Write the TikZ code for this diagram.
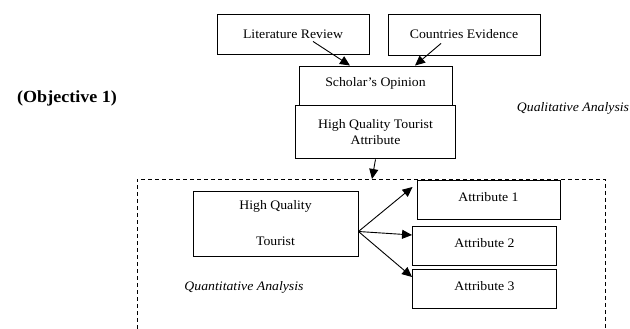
\documentclass[tikz,border=0pt]{standalone}
\usepackage{fontspec}
\setmainfont{Liberation Serif}[FakeStretch=1.06]
\usetikzlibrary{positioning, arrows.meta}

\begin{document}
\begin{tikzpicture}[x=1pt, y=1pt, >={Triangle[length=10pt, width=9pt]}, every node/.style={align=center, font=\fontsize{13}{16}\selectfont}, box/.style={draw, line width=0.9pt, inner sep=0pt}]
            \useasboundingbox (0,0) rectangle (630,329);

            \node[box, minimum width=152pt, minimum height=40pt] (lit) at (293,295) {Literature Review};
            \node[box, minimum width=152pt, minimum height=41pt] (countries) at (464,294.5) {Countries Evidence};
            \node[box, minimum width=153pt, minimum height=39pt, text depth=8pt] (scholar) at (375.5,243.5) {Scholar’s Opinion};
            \node[box, minimum width=160pt, minimum height=53pt, below=0pt of scholar.south] (hqta) {High Quality Tourist\\ Attribute};

            \node[box, minimum width=165pt, minimum height=65pt] (hqt) at (275.5,105.5) {High Quality\\[20pt] Tourist};
            \node[box, minimum width=143pt, minimum height=39pt, text depth=6pt] (attr1) at (488.5,129.5) {Attribute 1};
            \node[box, minimum width=144pt, minimum height=39pt, text depth=6pt] (attr2) at (484.5,83.5) {Attribute 2};
            \node[box, minimum width=144pt, minimum height=39pt, text depth=6pt] (attr3) at (484.5,40.5) {Attribute 3};

            \node[font=\fontsize{17}{20}\selectfont\bfseries] (objective) at (67,231) {(Objective 1)};
            \node[font=\fontsize{13}{16}\selectfont\itshape] (quali) at (573,221) {Qualitative Analysis};
            \node[font=\fontsize{13}{16}\selectfont\itshape] (quanti) at (244,42) {Quantitative Analysis};

            \draw[dashed, dash pattern=on 4pt off 3pt, line width=0.9pt] (137,0) |- (605,150) -- (605,0);
            \coordinate (gate) at (372,150);

            \draw[->, line width=0.9pt] ([shift={(20,13)}]lit.south) -- ([xshift=-25.5pt]scholar.north);
            \draw[->, line width=0.9pt] ([shift={(-23,12)}]countries.south) -- ([xshift=39.5pt]scholar.north);
            \draw[->, line width=0.9pt] (hqta.south) -- (gate);
            \draw[->, line width=0.9pt] ([yshift=-8pt]hqt.east) -- ([shift={(-4,12.5)}]attr1.west);
            \draw[->, line width=0.9pt] ([yshift=-8pt]hqt.east) -- ([yshift=10.5pt]attr2.west);
            \draw[->, line width=0.9pt] ([yshift=-8pt]hqt.east) -- ([yshift=11.5pt]attr3.west);
        \end{tikzpicture}
\end{document}
